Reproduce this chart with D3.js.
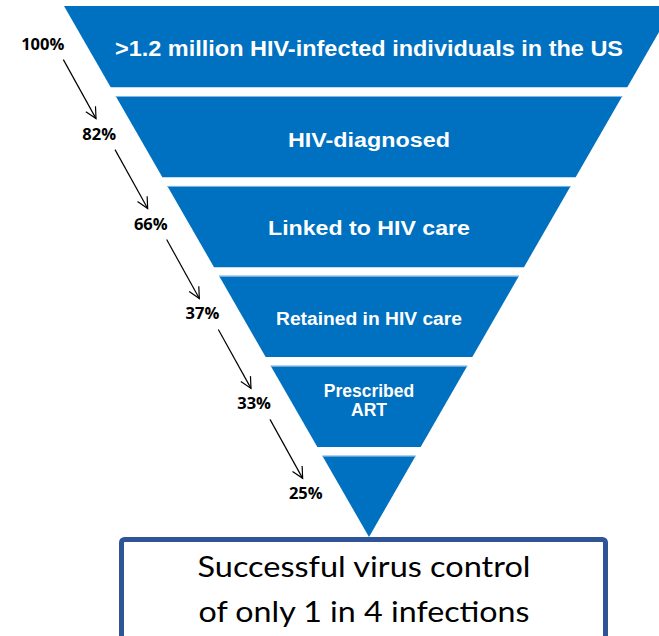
<!DOCTYPE html>
<html>
<head>
<meta charset="utf-8">
<script src="https://cdn.jsdelivr.net/npm/d3@7"></script>
<style>
  body { margin: 0; background: #fff; }
</style>
</head>
<body>
<div id="chart"></div>
<script>
// Stages of the HIV care cascade, top to bottom ("|" = line break)
const stages = [
  ">1.2 million HIV-infected individuals in the US",
  "HIV-diagnosed",
  "Linked to HIV care",
  "Retained in HIV care",
  "Prescribed|ART",
  ""
];
// Share of infected people reaching each stage
const percents = [100, 82, 66, 37, 33, 25];
// Text in the box under the funnel
const conclusion = ["Successful virus control", "of only 1 in 4 infections"];

// look of the stage labels: font size, fitted width, vertical nudge
const labelStyle = [
  { size: 21.5, fit: 508, shift: 2 },
  { size: 20, fit: 162, shift: 3 },
  { size: 21, fit: 202, shift: 1 },
  { size: 17.5, fit: 186, shift: 2 },
  { size: 17.5, fit: null, shift: -6 },
  { size: 17.5, fit: null, shift: 0 }
];

const width = 659, height = 636;
const blue = "#0070c0";
const cx = 369;            // funnel axis
const funnelTop = 6, apexY = 537;

const svg = d3.select("#chart").append("svg")
  .attr("width", width)
  .attr("height", height);

// vertical slots for the stages
const y = d3.scaleBand()
  .domain(d3.range(stages.length))
  .range([funnelTop, apexY])
  .paddingInner(0.096);

// half width of the funnel at a given height
const half = d3.scaleLinear()
  .domain([apexY, funnelTop])
  .range([0, 305]);

// box with the conclusion (drawn first so the tip sits on it)
svg.append("rect")
  .attr("x", 121.5)
  .attr("y", 539.5)
  .attr("width", 484)
  .attr("height", 140)
  .attr("rx", 3)
  .attr("fill", "#fff")
  .attr("stroke", "#2f5597")
  .attr("stroke-width", 5);

svg.append("g")
  .selectAll("text")
  .data(conclusion)
  .join("text")
  .attr("x", 364)
  .attr("y", (d, i) => 577 + i * 45)
  .attr("text-anchor", "middle")
  .attr("textLength", (d, i) => i === 0 ? 333 : 331)
  .attr("lengthAdjust", "spacingAndGlyphs")
  .style("font-family", "Lato, 'Open Sans', sans-serif")
  .style("font-size", "29px")
  .attr("fill", "#000")
  .text(d => d);

// funnel bands
const bands = svg.append("g")
  .selectAll("g")
  .data(stages)
  .join("g");

bands.append("path")
  .attr("fill", blue)
  .attr("d", (d, i) => {
    const y0 = y(i), y1 = y(i) + y.bandwidth();
    return d3.line()([
      [cx - half(y0), y0], [cx + half(y0), y0],
      [cx + half(y1), y1], [cx - half(y1), y1]
    ]) + "Z";
  });

// thin light edge on top of the lower bands
bands.filter((d, i) => i > 0).append("line")
  .attr("x1", (d, i) => cx - half(y(i + 1)))
  .attr("x2", (d, i) => cx + half(y(i + 1)))
  .attr("y1", (d, i) => y(i + 1) + 0.5)
  .attr("y2", (d, i) => y(i + 1) + 0.5)
  .attr("stroke", "#8fb9e3")
  .attr("stroke-width", 1);

// stage labels
bands.each(function(d, i) {
  if (!d) return;
  const st = labelStyle[i];
  const lines = d.split("|");
  const lh = 19;
  const cy = y(i) + y.bandwidth() / 2;
  const base = cy + 0.36 * st.size + st.shift - (lines.length - 1) * lh / 2;
  d3.select(this).selectAll("text.stage")
    .data(lines)
    .join("text")
    .attr("class", "stage")
    .attr("x", cx)
    .attr("y", (l, j) => base + j * lh)
    .attr("text-anchor", "middle")
    .attr("fill", "#fff")
    .style("font-family", "'Liberation Sans', Arial, sans-serif")
    .style("font-weight", "bold")
    .style("font-size", st.size + "px")
    .each(function() {
      if (st.fit) d3.select(this)
        .attr("textLength", st.fit)
        .attr("lengthAdjust", "spacingAndGlyphs");
    })
    .text(l => l);
});

// percentage labels to the left of the funnel
const pct = percents.map((p, i) => {
  const cy = y(i) + y.bandwidth() / 2;
  return { p, right: cx - half(cy) - 23, base: cy + 3 };
});

svg.append("g")
  .selectAll("text")
  .data(pct)
  .join("text")
  .attr("x", d => d.right)
  .attr("y", d => d.base)
  .attr("text-anchor", "end")
  .attr("fill", "#000")
  .style("font-family", "'Open Sans', sans-serif")
  .style("font-weight", "bold")
  .style("font-size", "16.5px")
  .text(d => d.p + "%");

// arrows between the percentages
svg.append("defs").append("marker")
  .attr("id", "head")
  .attr("markerUnits", "userSpaceOnUse")
  .attr("viewBox", "-12 -7 14 14")
  .attr("markerWidth", 14)
  .attr("markerHeight", 14)
  .attr("refX", 0)
  .attr("refY", 0)
  .attr("orient", "auto")
  .append("path")
  .attr("d", "M-11,-5.5L0,0L-11,5.5")
  .attr("fill", "none")
  .attr("stroke", "#000")
  .attr("stroke-width", 1.2);

svg.append("g")
  .selectAll("line")
  .data(d3.pairs(pct))
  .join("line")
  .attr("x1", d => d[0].right - 1)
  .attr("y1", d => d[0].base + 10)
  .attr("x2", d => d[1].right - 20)
  .attr("y2", d => d[1].base - 21)
  .attr("stroke", "#000")
  .attr("stroke-width", 1.2)
  .attr("marker-end", "url(#head)");
</script>
</body>
</html>
